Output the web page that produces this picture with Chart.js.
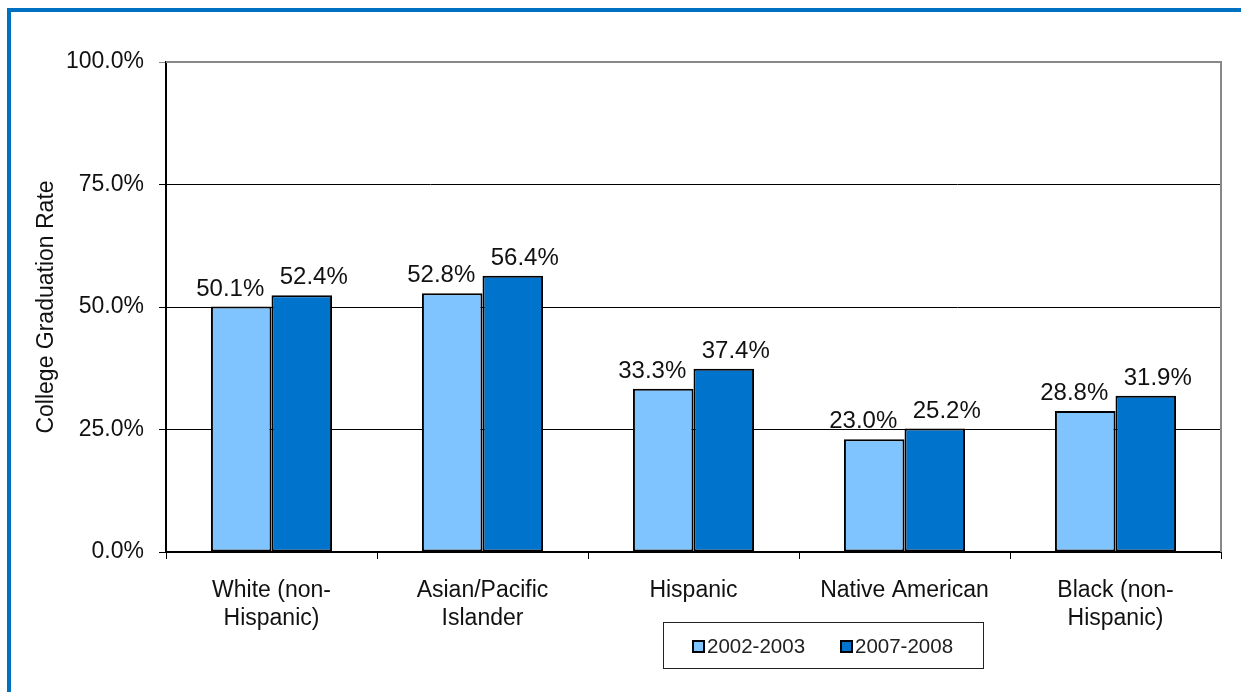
<!DOCTYPE html>
<html>
<head>
<meta charset="utf-8">
<script src="https://cdn.jsdelivr.net/npm/chart.js@4/dist/chart.umd.min.js"></script>
<style>
    html, body { margin: 0; padding: 0; background: #fff; }
    #frame {
        position: absolute; left: 7px; top: 8px; width: 1250px; height: 681px;
        border-left: 4px solid #0070C0; border-top: 4px solid #0070C0; border-bottom: 2px solid #4a8fcf;
    }
    #wrap { position: absolute; left: 0; top: 0; width: 1241px; height: 692px; }
</style>
</head>
<body>
<div id="frame"></div>
<div id="wrap"><canvas id="chart" width="1241" height="692"></canvas></div>
<script>
const categories = [['White (non-', 'Hispanic)'], ['Asian/Pacific', 'Islander'], 'Hispanic', 'Native American', ['Black (non-', 'Hispanic)']];
const seriesNames = ['2002-2003', '2007-2008'];
const rates2002 = [50.1, 52.8, 33.3, 23.0, 28.8];
const rates2007 = [52.4, 56.4, 37.4, 25.2, 31.9];
const yTicks = [0, 25, 50, 75, 100];

const FONT = 'Liberation Sans, Arial, sans-serif';

// value labels above bars, nudged apart like the original
const labelPlugin = {
    id: 'barLabels',
    afterDatasetsDraw(chart) {
        const ctx = chart.ctx;
        ctx.save();
        ctx.font = '24px ' + FONT;
        ctx.fillStyle = '#111';
        ctx.textAlign = 'center';
        ctx.textBaseline = 'alphabetic';
        chart.data.datasets.forEach((ds, i) => {
            chart.getDatasetMeta(i).data.forEach((bar, j) => {
                const shift = i === 0 ? -11 : 12;
                ctx.fillText(ds.data[j].toFixed(1) + '%', bar.x + shift, bar.y - 11);
            });
        });
        ctx.restore();
    }
};

// plot border on the right + boxed legend at the bottom
const framePlugin = {
    id: 'frameLegend',
    afterDraw(chart) {
        const ctx = chart.ctx;
        const a = chart.chartArea;
        ctx.save();
        ctx.strokeStyle = '#888';
        ctx.lineWidth = 2;
        ctx.beginPath();
        ctx.moveTo(a.left, a.top);
        ctx.lineTo(a.right, a.top);
        ctx.lineTo(a.right, a.bottom);
        ctx.stroke();

        // legend
        ctx.strokeStyle = '#222';
        ctx.lineWidth = 1;
        ctx.strokeRect(663.5, 622.5, 320, 46);
        ctx.font = '20.5px ' + FONT;
        ctx.textBaseline = 'middle';
        ctx.textAlign = 'left';
        const xs = [693, 841];
        chart.data.datasets.forEach((ds, i) => {
            ctx.fillStyle = ds.backgroundColor;
            ctx.fillRect(xs[i], 641, 11, 11);
            ctx.lineWidth = 2;
            ctx.strokeStyle = '#000';
            ctx.strokeRect(xs[i], 641, 11, 11);
            ctx.fillStyle = '#222';
            ctx.fillText(ds.label, xs[i] + 14, 647);
        });
        ctx.restore();
    }
};

new Chart(document.getElementById('chart'), {
    type: 'bar',
    data: {
        labels: categories,
        datasets: [
            { label: seriesNames[0], data: rates2002, backgroundColor: '#7FC4FF', borderColor: '#000', borderWidth: 2, borderSkipped: false },
            { label: seriesNames[1], data: rates2007, backgroundColor: '#0073CC', borderColor: '#000', borderWidth: 2, borderSkipped: false }
        ]
    },
    options: {
        responsive: false,
        animation: false,
        layout: { padding: { left: 33, top: 62, right: 20, bottom: 0 } },
        categoryPercentage: 0.574,
        barPercentage: 1.0,
        plugins: {
            legend: { display: false },
            tooltip: { enabled: false }
        },
        scales: {
            x: {
                grid: { offset: true, drawOnChartArea: false, color: '#000', tickLength: 7 },
                border: { color: '#000', width: 2 },
                ticks: { color: '#111', font: { family: FONT, size: 23, lineHeight: 1.2 }, padding: 18, maxRotation: 0 },
                afterFit(scale) { scale.height = 140; }
            },
            y: {
                min: 0,
                max: 100,
                afterBuildTicks(scale) { scale.ticks = yTicks.map(v => ({ value: v })); },
                grid: {
                    color: ctx => ctx.tick && ctx.tick.value === 100 ? '#888' : '#000',
                    lineWidth: 1,
                    tickLength: 7
                },
                border: { color: '#000', width: 2 },
                ticks: {
                    color: '#111',
                    font: { family: FONT, size: 23 },
                    padding: 15,
                    callback: v => v.toFixed(1) + '%'
                },
                title: {
                    display: true,
                    text: 'College Graduation Rate',
                    color: '#111',
                    font: { family: FONT, size: 23 },
                    padding: { top: 0, bottom: 0 }
                },
                afterFit(scale) { scale.width = 133; }
            }
        }
    },
    plugins: [labelPlugin, framePlugin]
});
</script>
</body>
</html>
